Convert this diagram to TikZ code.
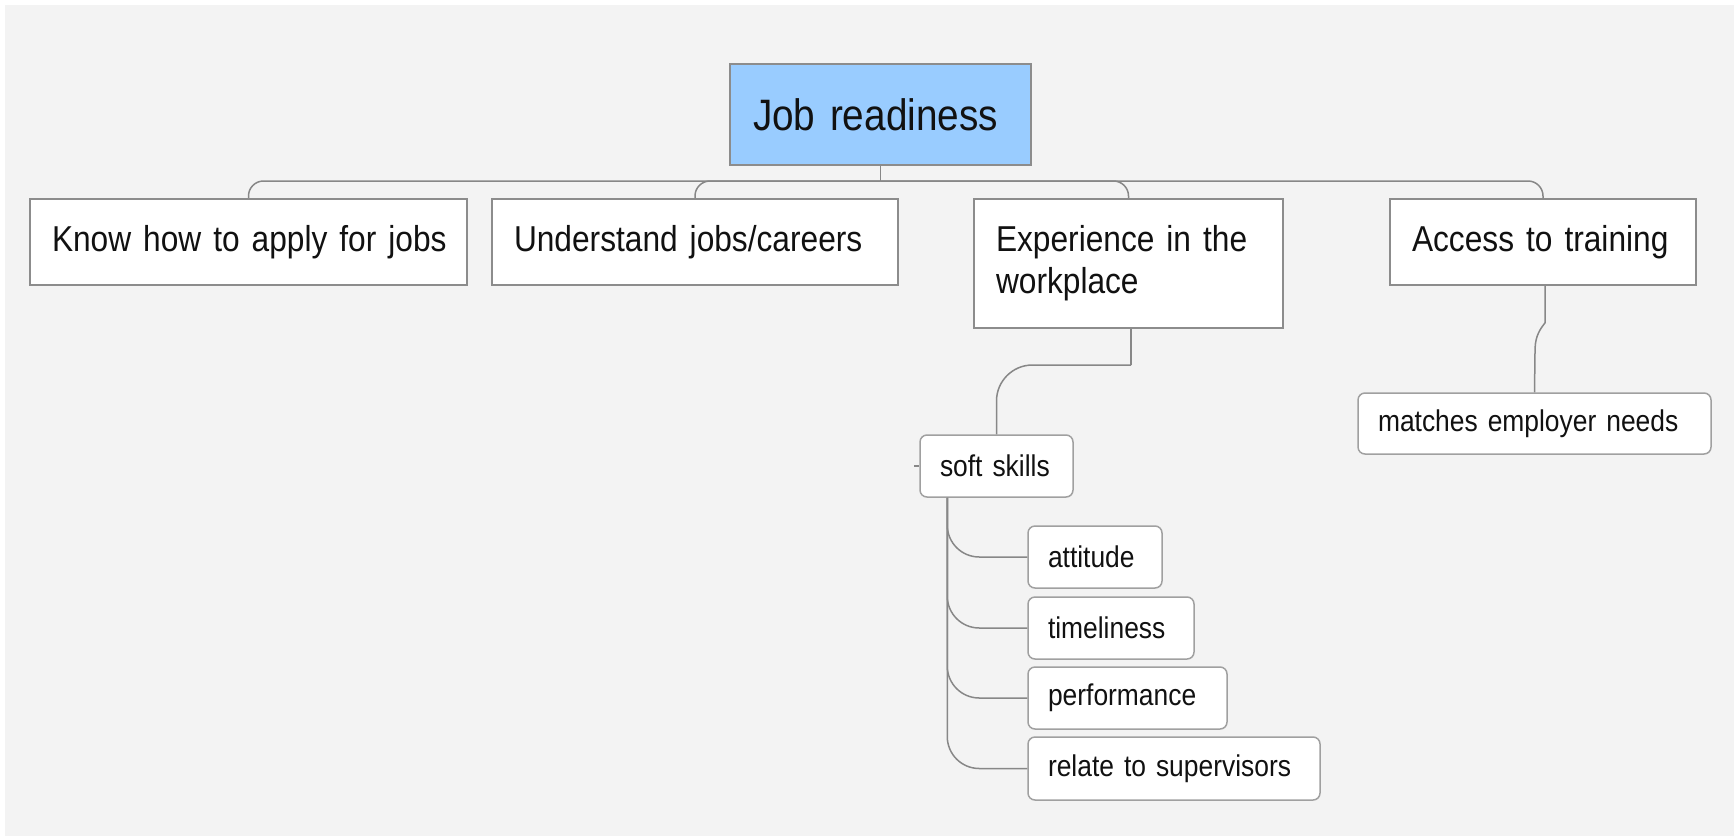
\documentclass[tikz,border=0pt]{standalone}
\usepackage{fontspec}
\setmainfont[FakeStretch=0.88]{Liberation Sans}
\newcommand\myrootfont{\fontsize{44}{50}\selectfont}
\newcommand\mybigfont{\fontsize{36}{42}\selectfont}
\newcommand\mysmallfont{\fontsize{30}{36}\selectfont}
\definecolor{bggray}{HTML}{F3F3F3}
\definecolor{rootblue}{HTML}{99CCFF}
\definecolor{boxline}{HTML}{8C8C8C}
\definecolor{smallline}{HTML}{A0A0A0}
\definecolor{conline}{HTML}{878787}
\definecolor{txt}{HTML}{111111}
\begin{document}
\begin{tikzpicture}[x=1pt,y=-1pt,
  rootbox/.style={draw=boxline,line width=1.6pt,fill=rootblue,text=txt,
    minimum width=301pt,minimum height=101pt,inner xsep=23pt,
    text width=255pt,align=left,font=\myrootfont},
  bigbox/.style={draw=boxline,line width=1.6pt,fill=white,text=txt,
    minimum height=86pt,inner xsep=22pt,align=left,
    font=\mybigfont},
  smallbox/.style={draw=smallline,line width=1.5pt,fill=white,text=txt,
    rounded corners=7pt,minimum height=62pt,inner xsep=20pt,align=left,
    font=\mysmallfont},
  con/.style={draw=conline,line width=1.5pt},
  ]
\useasboundingbox (0,0) rectangle (1734,836);
\fill[white] (0,0) rectangle (1734,836);
\fill[bggray] (5,5) rectangle (1734,836);

% nodes
\node[rootbox] (root) at (880.5,114.5) {\mbox{Job readiness}};
\node[bigbox,minimum width=437pt,text width=393pt] (b1) at (248.5,242) {\mbox{Know how to apply for jobs}};
\node[bigbox,minimum width=406pt,text width=362pt] (b2) at (695,242) {\mbox{Understand jobs/careers}};
\node[bigbox,minimum width=309pt,minimum height=129pt,text width=265pt] (b3) at (1128.5,263.5) {\mbox{Experience in the}\\\mbox{workplace}};
\node[bigbox,minimum width=306pt,text width=262pt] (b4) at (1543,242) {\mbox{Access to training}};

\node[smallbox,minimum width=153pt,text width=113pt] (ss) at (996.5,466) {\mbox{soft skills}};
\node[smallbox,minimum width=134pt,text width=94pt] (att) at (1095,557) {\mbox{attitude}};
\node[smallbox,minimum width=166pt,text width=126pt] (tim) at (1111,628) {\mbox{timeliness}};
\node[smallbox,minimum width=199pt,text width=159pt] (perf) at (1127.5,698) {\mbox{performance}};
\node[smallbox,minimum width=292pt,minimum height=63pt,text width=252pt] (rel) at (1174,768.5) {\mbox{relate to supervisors}};
\node[smallbox,minimum width=353pt,minimum height=61pt,text width=313pt] (match) at (1534.5,423.5) {\mbox{matches employer needs}};

% root to level 1
\coordinate (bus) at (880.5,181);
\draw[con] (root.south) -- (bus);
\foreach \n in {b1,b2,b3,b4}{
  \draw[con,rounded corners=15pt] (bus) -| (\n.north);
}

% experience to soft skills
\coordinate (ejog) at (1131,365);
\draw[con] (b3.south -| ejog) -- (ejog);
\draw[con,rounded corners=36pt] (ejog) -| (ss.north);
\coordinate (stub) at (914,466);
\draw[con] (stub) -- (ss.west);

% soft skills to children
\coordinate (sstrunk) at ([xshift=28pt]ss.south west);
\foreach \n in {att,tim,perf,rel}{
  \draw[con,rounded corners=32pt] (sstrunk) |- (\n.west);
}

% access to training to matches
\draw[con] ([xshift=2pt]b4.south) -- ++(0,37) .. controls ++(-8,10) and ++(0,-12) .. (1535,352) -- (match.north);
\end{tikzpicture}
\end{document}
